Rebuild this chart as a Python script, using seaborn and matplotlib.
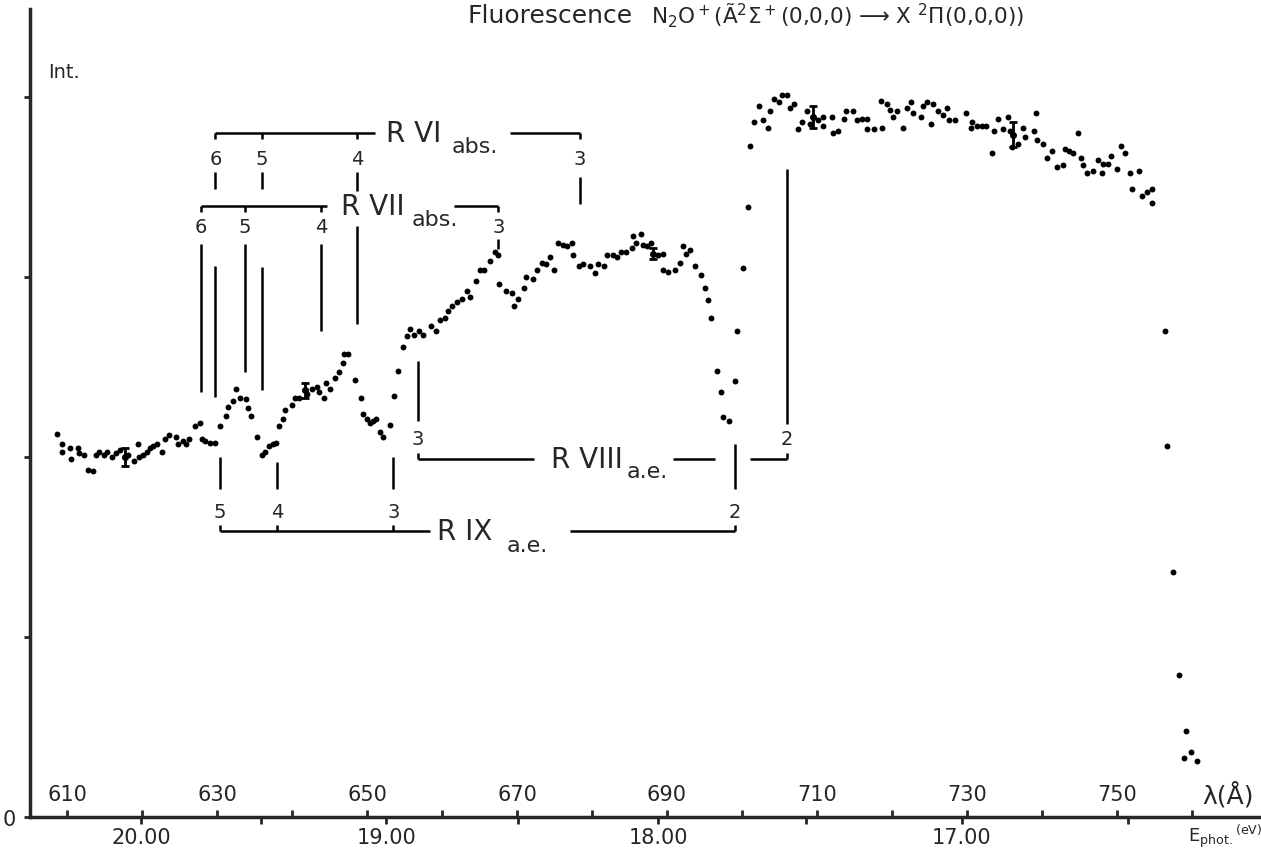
import numpy as np
import pandas as pd
import seaborn as sns
import matplotlib.pyplot as plt

# Fluorescence intensity (arb. units) vs. photon wavelength (Angstrom)
wavelength = [
    608.7, 609.3, 609.3, 610.4, 610.5, 611.5, 611.6, 612.3, 612.8, 613.5,
    613.9, 614.3, 614.9, 615.3, 616.0, 616.5, 617.1, 618.1, 618.9, 619.5,
    619.6, 620.1, 620.7, 621.1, 621.5, 622.0, 622.7, 623.1, 623.6, 624.5,
    624.8, 625.5, 625.9, 626.3, 627.1, 627.7, 628.0, 628.4, 629.1, 629.7,
    630.4, 631.2, 631.5, 632.1, 632.5, 633.1, 633.9, 634.1, 634.5, 635.3,
    636.0, 636.4, 636.9, 637.5, 637.9, 638.3, 638.8, 639.1, 640.0, 640.4,
    640.9, 642.0, 642.7, 643.3, 643.6, 644.3, 644.5, 645.1, 645.7, 646.3,
    646.8, 646.9, 647.5, 648.4, 649.2, 649.5, 650.0, 650.4, 650.8, 651.2,
    651.7, 652.1, 653.1, 653.6, 654.1, 654.8, 655.3, 655.7, 656.3, 656.9,
    657.5, 658.5, 659.2, 659.7, 660.4, 660.8, 661.3, 662.0, 662.7, 663.3,
    663.7, 664.5, 665.1, 665.6, 666.4, 667.1, 667.5, 667.6, 668.5, 669.3,
    669.6, 670.1, 670.9, 671.2, 672.1, 672.7, 673.3, 673.9, 674.4, 674.9,
    675.5, 676.1, 676.7, 677.3, 677.5, 678.3, 678.8, 679.7, 680.4, 680.8,
    681.6, 682.0, 682.8, 683.3, 683.9, 684.5, 685.3, 685.5, 685.9, 686.5,
    686.8, 687.3, 687.9, 688.8, 689.5, 689.5, 690.1, 691.1, 691.7, 692.1,
    692.5, 693.1, 693.7, 694.5, 695.1, 695.5, 695.9, 696.7, 697.2, 697.5,
    698.3, 699.1, 699.3, 700.1, 700.8, 701.1, 701.6, 702.3, 702.8, 703.5,
    703.7, 704.3, 704.9, 705.3, 706.0, 706.4, 706.9, 707.5, 708.0, 708.7,
    709.1, 710.1, 710.8, 710.8, 712.0, 712.1, 712.8, 713.6, 713.9, 714.8,
    715.3, 716.0, 716.7, 716.7, 717.6, 718.5, 718.7, 719.3, 719.7, 720.1,
    720.7, 721.5, 722.0, 722.5, 722.8, 723.9, 724.1, 724.7, 725.2, 725.5,
    726.1, 726.8, 727.3, 727.6, 728.4, 729.9, 730.5, 730.7, 731.3, 732.0,
    732.5, 733.3, 733.6, 734.1, 734.8, 735.5, 735.7, 736.0, 736.8, 737.5,
    737.7, 738.9, 739.2, 739.3, 740.1, 740.7, 741.3, 742.0, 742.8, 743.1,
    743.6, 744.1, 744.8, 745.2, 745.5, 746.0, 746.8, 747.5, 748.0, 748.1,
    748.8, 749.2, 750.0, 750.5, 751.1, 751.7, 752.0, 752.9, 753.3, 754.0,
    754.7, 754.7, 756.4, 756.7, 757.5, 758.3, 759.2, 758.9, 759.9, 760.7,
]
intensity = [
    2.13, 2.07, 2.03, 2.05, 1.99, 2.05, 2.02, 2.01, 1.93, 1.92,
    2.01, 2.03, 2.01, 2.03, 2.00, 2.02, 2.04, 2.01, 1.98, 2.07,
    2.00, 2.01, 2.03, 2.05, 2.06, 2.07, 2.03, 2.10, 2.12, 2.11,
    2.07, 2.09, 2.07, 2.10, 2.17, 2.19, 2.10, 2.09, 2.08, 2.08,
    2.17, 2.23, 2.28, 2.31, 2.38, 2.33, 2.32, 2.27, 2.23, 2.11,
    2.01, 2.03, 2.06, 2.07, 2.08, 2.17, 2.21, 2.26, 2.29, 2.33,
    2.33, 2.35, 2.38, 2.39, 2.36, 2.33, 2.41, 2.38, 2.44, 2.47,
    2.52, 2.57, 2.57, 2.43, 2.33, 2.24, 2.21, 2.19, 2.20, 2.21,
    2.14, 2.11, 2.18, 2.34, 2.48, 2.61, 2.67, 2.71, 2.68, 2.70,
    2.68, 2.73, 2.70, 2.76, 2.77, 2.81, 2.84, 2.86, 2.88, 2.92,
    2.89, 2.98, 3.04, 3.04, 3.09, 3.14, 3.12, 2.96, 2.92, 2.91,
    2.84, 2.88, 2.94, 3.00, 2.99, 3.04, 3.08, 3.07, 3.11, 3.04,
    3.19, 3.18, 3.17, 3.19, 3.12, 3.06, 3.07, 3.06, 3.02, 3.07,
    3.06, 3.12, 3.12, 3.11, 3.14, 3.14, 3.16, 3.23, 3.19, 3.24,
    3.18, 3.17, 3.19, 3.12, 3.13, 3.04, 3.03, 3.04, 3.08, 3.17,
    3.13, 3.15, 3.06, 3.01, 2.94, 2.87, 2.77, 2.48, 2.36, 2.22,
    2.20, 2.42, 2.70, 3.05, 3.39, 3.73, 3.86, 3.95, 3.87, 3.83,
    3.92, 3.99, 3.97, 4.01, 4.01, 3.94, 3.96, 3.82, 3.86, 3.92,
    3.85, 3.87, 3.89, 3.84, 3.89, 3.80, 3.81, 3.88, 3.92, 3.92,
    3.87, 3.88, 3.88, 3.82, 3.82, 3.98, 3.83, 3.96, 3.93, 3.89,
    3.92, 3.83, 3.94, 3.97, 3.91, 3.89, 3.95, 3.97, 3.85, 3.96,
    3.92, 3.90, 3.94, 3.87, 3.87, 3.91, 3.83, 3.86, 3.84, 3.84,
    3.84, 3.69, 3.81, 3.88, 3.82, 3.89, 3.81, 3.72, 3.74, 3.83,
    3.78, 3.81, 3.91, 3.76, 3.74, 3.66, 3.70, 3.61, 3.62, 3.71,
    3.70, 3.69, 3.80, 3.66, 3.62, 3.58, 3.59, 3.65, 3.58, 3.63,
    3.63, 3.67, 3.60, 3.73, 3.69, 3.58, 3.49, 3.59, 3.45, 3.47,
    3.49, 3.41, 2.70, 2.06, 1.36, 0.79, 0.48, 0.33, 0.36, 0.31,
]

# points drawn with an error bar
err_wavelength = [617.7, 641.7, 688.1, 709.5, 736.1]
err_intensity = [2.00, 2.37, 3.13, 3.89, 3.79]
err_size = [0.05, 0.04, 0.03, 0.06, 0.07]

# Rydberg series members (wavelength) and their n
r6_lam = [629.8, 636.0, 648.7, 678.4]
r6_n = ["6", "5", "4", "3"]
r7_lam = [627.9, 633.7, 643.9, 667.5]
r7_n = ["6", "5", "4", "3"]
r8_lam = [656.8, 706.0]
r8_n = ["3", "2"]
r9_lam = [630.4, 638.0, 653.5, 699.1]
r9_n = ["5", "4", "3", "2"]

lam_major = [610, 630, 650, 670, 690, 710, 730, 750]
lam_minor = [620, 640, 660, 680, 700, 720, 740, 760]
ev_major = [20.0, 19.0, 18.0, 17.0]
ev_minor = [19.5, 18.5, 17.5, 16.5]

HC = 12398.4  # eV * Angstrom

sns.set_style("ticks")
plt.rcParams["font.family"] = ["DejaVu Sans"]
plt.rcParams["mathtext.default"] = "regular"

W, H = 1261, 854
fig = plt.figure(figsize=(W / 100, H / 100), dpi=100)
ax = fig.add_axes([30 / W, 36 / H, 1 - 30 / W, 808 / H])

df = pd.DataFrame({"lam": wavelength, "int": intensity})
sns.scatterplot(data=df, x="lam", y="int", color="black", s=18, linewidth=0, ax=ax)
ax.errorbar(err_wavelength, err_intensity, yerr=err_size, fmt="o", color="black",
            ms=4, capsize=3, elinewidth=2, capthick=2)

ax.set_xlim(605.07, 769.2)
ax.set_ylim(0, 4.489)
ax.set_xlabel("")
ax.set_ylabel("")
for s in ["top", "right"]:
    ax.spines[s].set_visible(False)
ax.spines["left"].set_linewidth(2.5)
ax.spines["bottom"].set_linewidth(2.5)

# wavelength scale: ticks and labels above the axis line
ax.set_xticks(lam_major)
ax.set_xticks(lam_minor, minor=True)
ax.tick_params(axis="x", which="both", direction="in", length=5, width=2,
               labelsize=15, pad=-24)

ax.set_yticks([0, 1, 2, 3, 4])
ax.set_yticklabels(["0", "", "", "", ""])
ax.tick_params(axis="y", direction="out", length=4, width=2, labelsize=15, pad=6)


# photon energy scale below the axis
def to_ev(l):
    l = np.asarray(l, dtype=float)
    return HC / np.where(l == 0, 1e-9, l)


sec = ax.secondary_xaxis("bottom", functions=(to_ev, to_ev))
sec.set_xticks(ev_major)
sec.set_xticklabels([f"{v:.2f}" for v in ev_major])
sec.set_xticks(ev_minor, minor=True)
sec.tick_params(which="both", direction="out", length=5, width=2, labelsize=15, pad=2)
sec.spines["bottom"].set_visible(False)

LW = 1.8


def seg(x0, x1, y0, y1):
    ax.plot([x0, x1], [y0, y1], color="black", lw=LW, solid_capstyle="butt")


# R VI abs.
seg(r6_lam[0], 651.1, 3.80, 3.80)
seg(669.1, r6_lam[3], 3.80, 3.80)
for l, n in zip(r6_lam, r6_n):
    seg(l, l, 3.80, 3.765)
    ax.text(l, 3.656, n, ha="center", va="center", fontsize=14)
r6_low = [(3.583, 3.489, 3.061, 2.333), (3.583, 3.489, 3.056, 2.372),
          (3.583, 3.478, 3.283, 2.739)]
for l, (a, b, c, d) in zip(r6_lam, r6_low):
    seg(l, l, a, b)
    seg(l, l, c, d)
seg(r6_lam[3], r6_lam[3], 3.556, 3.406)
ax.text(652.5, 3.80, "R VI", ha="left", va="center", fontsize=20)
ax.text(661.3, 3.73, "abs.", ha="left", va="center", fontsize=16)

# R VII abs.
seg(r7_lam[0], 644.7, 3.394, 3.394)
seg(661.6, r7_lam[3], 3.394, 3.394)
for l, n in zip(r7_lam, r7_n):
    seg(l, l, 3.394, 3.36)
    ax.text(l, 3.278, n, ha="center", va="center", fontsize=14)
for l, bot in zip(r7_lam[:3], [2.361, 2.472, 2.70]):
    seg(l, l, 3.183, bot)
seg(r7_lam[3], r7_lam[3], 3.211, 3.156)
ax.text(646.5, 3.394, "R VII", ha="left", va="center", fontsize=20)
ax.text(656.0, 3.32, "abs.", ha="left", va="center", fontsize=16)

# R VIII a.e.
seg(r8_lam[0], 672.3, 1.989, 1.989)
seg(690.8, 696.4, 1.989, 1.989)
seg(701.1, r8_lam[1], 1.989, 1.989)
for l, n in zip(r8_lam, r8_n):
    seg(l, l, 1.989, 2.025)
    ax.text(l, 2.105, n, ha="center", va="center", fontsize=14)
seg(r8_lam[0], r8_lam[0], 2.533, 2.20)
seg(r8_lam[1], r8_lam[1], 3.60, 2.183)
ax.text(674.5, 1.989, "R VIII", ha="left", va="center", fontsize=20)
ax.text(684.6, 1.922, "a.e.", ha="left", va="center", fontsize=16)

# R IX a.e.
seg(r9_lam[0], 658.4, 1.589, 1.589)
seg(677.1, r9_lam[3], 1.589, 1.589)
for l, n, top in zip(r9_lam, r9_n, [2.0, 1.972, 2.0, 2.072]):
    seg(l, l, 1.589, 1.62)
    ax.text(l, 1.70, n, ha="center", va="center", fontsize=14)
    seg(l, l, top, 1.822)
ax.text(659.3, 1.589, "R IX", ha="left", va="center", fontsize=20)
ax.text(668.6, 1.51, "a.e.", ha="left", va="center", fontsize=16)

# figure texts
fig.text(48 / W, 1 - 72 / H, "Int.", ha="left", va="center", fontsize=14)
fig.text(468 / W, 1 - 16 / H, "Fluorescence", ha="left", va="center", fontsize=18)
fig.text(651 / W, 1 - 16 / H,
         r"N$_2$O$^+$(Ã$^2$Σ$^+$(0,0,0) ⟶ X $^2$Π(0,0,0))",
         ha="left", va="center", fontsize=15.5)
fig.text(1228 / W, 1 - 795 / H, "λ(Å)", ha="center", va="center", fontsize=18)
fig.text(1188 / W, 1 - 836 / H, r"E$_{phot.}$$^{(eV)}$", ha="left", va="center",
         fontsize=13)

fig.savefig("out.png", dpi=100)
